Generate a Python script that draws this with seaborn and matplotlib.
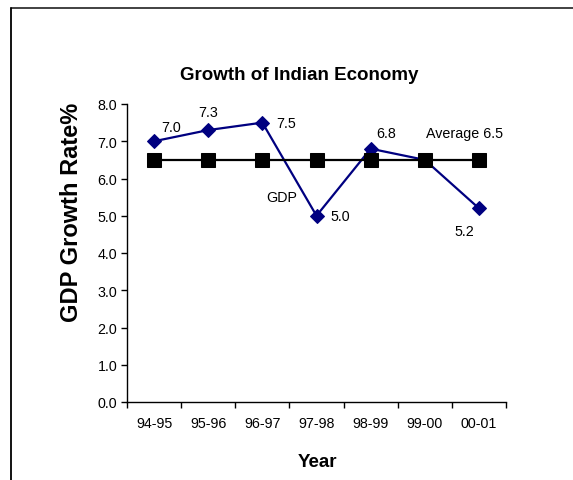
import matplotlib
matplotlib.use("Agg")
import matplotlib.pyplot as plt
from matplotlib.lines import Line2D
import seaborn as sns
import numpy as np

# Fiscal years and growth figures
years = ["94-95", "95-96", "96-97", "97-98", "98-99", "99-00", "00-01"]
gdp_growth = [7.0, 7.3, 7.5, 5.0, 6.8, 6.5, 5.2]
average_growth = [6.5, 6.5, 6.5, 6.5, 6.5, 6.5, 6.5]
y_ticks = [0.0, 1.0, 2.0, 3.0, 4.0, 5.0, 6.0, 7.0, 8.0]

sns.set_theme(style="white")
plt.rcParams["font.family"] = ["Liberation Sans", "DejaVu Sans"]

W, H, DPI = 573, 481, 100
fig = plt.figure(figsize=(W / DPI, H / DPI), dpi=DPI, facecolor="white")

# plot area in pixel terms
left, right, top, bottom = 127, 506, 105, 403
ax = fig.add_axes([left / W, 1 - bottom / H, (right - left) / W, (bottom - top) / H])
ax.set_facecolor("white")

pos = np.arange(len(years))
sns.lineplot(x=pos, y=gdp_growth, ax=ax, color="#000080", linewidth=1.6,
             marker="D", markersize=7, markeredgecolor="#000080",
             markerfacecolor="#000080", clip_on=False, zorder=3)
sns.lineplot(x=pos, y=average_growth, ax=ax, color="black", linewidth=1.6,
             marker="s", markersize=9.5, markeredgecolor="black",
             markerfacecolor="black", clip_on=False, zorder=4)

ax.set_xlim(-0.5, len(years) - 0.5)
ax.set_ylim(y_ticks[0], y_ticks[-1])
ax.set_yticks(y_ticks, labels=[f"{v:.1f}" for v in y_ticks])

# tick marks on category boundaries, labels centred in each category
ax.set_xticks(np.arange(-0.5, len(years), 1.0), labels=[])
ax.set_xticks(pos, labels=years, minor=True)
ax.tick_params(axis="x", which="major", direction="out", length=4, width=1,
               color="black", bottom=True)
ax.tick_params(axis="x", which="minor", length=0, labelsize=10.3, pad=10,
               labelcolor="black")
ax.tick_params(axis="y", which="major", direction="out", length=4, width=1,
               color="black", left=True, labelsize=10.3, pad=3,
               labelcolor="black")

for side in ["top", "right"]:
    ax.spines[side].set_visible(False)
for side in ["left", "bottom"]:
    ax.spines[side].set_color("black")
    ax.spines[side].set_linewidth(1)
ax.grid(False)
ax.set_xlabel("")
ax.set_ylabel("")

# value labels
offsets = [(17, 14), (0, 18), (24, 0), (24, 0), (15, 16), None, (-15, -23)]
for i, (val, off) in enumerate(zip(gdp_growth, offsets)):
    if off is None:
        continue
    ax.annotate(f"{val:.1f}", xy=(pos[i], val), xytext=off,
                textcoords="offset pixels", ha="center", va="center",
                fontsize=10.3, color="black", annotation_clip=False)

ax.annotate("GDP", xy=(pos[3], gdp_growth[3]), xytext=(-35, 19),
            textcoords="offset pixels", ha="center", va="center",
            fontsize=10.3, color="black", annotation_clip=False)
ax.annotate(f"Average {average_growth[-1]:.1f}", xy=(pos[-1], average_growth[-1]),
            xytext=(-14, 27), textcoords="offset pixels", ha="center",
            va="center", fontsize=10.3, color="black", annotation_clip=False)

# titles
fig.text(299 / W, 1 - 76 / H, "Growth of Indian Economy", ha="center",
         va="center", fontsize=13.5, fontweight="bold", color="black")
fig.text(71 / W, 1 - 212 / H, "GDP Growth Rate%", ha="center", va="center",
         rotation=90, fontsize=17, fontweight="bold", color="black")
fig.text(317 / W, 1 - 463 / H, "Year", ha="center", va="center",
         fontsize=13.5, fontweight="bold", color="black")

# chart frame
fig.add_artist(Line2D([11 / W, 1.0], [1 - 9 / H, 1 - 9 / H],
                      transform=fig.transFigure, color="#333333", linewidth=1.3))
fig.add_artist(Line2D([11 / W, 11 / W], [1 - 9 / H, 0.0],
                      transform=fig.transFigure, color="black", linewidth=1.3))

fig.savefig("out.png", dpi=DPI, facecolor="white")
